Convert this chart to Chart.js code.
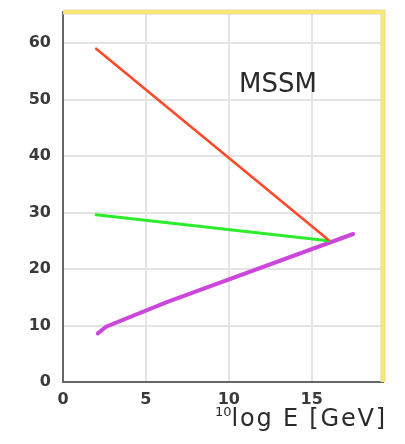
<!DOCTYPE html>
<html>
<head>
<meta charset="utf-8">
<script src="https://cdn.jsdelivr.net/npm/chart.js@4.4.1/dist/chart.umd.min.js"></script>
<style>
  body { margin: 0; background: #fff; }
  #wrap { position: relative; width: 405px; height: 444px; }
  .lbl { position: absolute; font-family: "DejaVu Sans"; color: #2a2a2a; white-space: nowrap; }
  #mssm { left: 239px; top: 68px; font-size: 26px; }
  #xtitle { left: 215px; top: 404px; font-size: 24px; letter-spacing: 1.8px; }
  #xtitle sup { font-size: 13px; letter-spacing: 0; position: relative; top: -1px; }
</style>
</head>
<body>
<div id="wrap">
  <canvas id="c" width="405" height="444"></canvas>
  <div class="lbl" id="mssm">MSSM</div>
  <div class="lbl" id="xtitle"><sup>10</sup>log E [GeV]</div>
</div>
<script>
// data (x = 10log E, y = 1/alpha)
const xTicks = [0, 5, 10, 15];
const yTicks = [0, 10, 20, 30, 40, 50, 60];
const redLine = [{x: 2.0, y: 59}, {x: 16.0, y: 25.2}];
const greenLine = [{x: 2.0, y: 29.6}, {x: 16.0, y: 25.0}];
const purpleLine = [{x: 2.1, y: 8.6}, {x: 2.6, y: 9.8}, {x: 6.3, y: 14.2}, {x: 17.5, y: 26.2}];

const yellowFrame = {
  id: 'yellowFrame',
  afterDatasetsDraw(chart) {
    const a = chart.chartArea;
    const ctx = chart.ctx;
    ctx.save();
    ctx.beginPath();
    ctx.moveTo(a.left, a.top);
    ctx.lineTo(a.right, a.top);
    ctx.lineTo(a.right, a.bottom);
    ctx.strokeStyle = '#dcd6b8';
    ctx.lineWidth = 5;
    ctx.stroke();
    ctx.strokeStyle = '#fbe96b';
    ctx.lineWidth = 3.5;
    ctx.stroke();
    ctx.restore();
  }
};

function keepTicks(list) {
  return function (scale) {
    scale.ticks = list.map(v => ({value: v}));
  };
}

new Chart(document.getElementById('c'), {
  type: 'line',
  data: {
    datasets: [
      {data: redLine, borderColor: '#ff4a2a', borderWidth: 2.6},
      {data: greenLine, borderColor: '#2cec2c', borderWidth: 3},
      {data: purpleLine, borderColor: '#cc46dc', borderWidth: 4}
    ]
  },
  options: {
    responsive: false,
    animation: false,
    events: [],
    layout: {padding: {left: 0, right: 22, top: 12, bottom: 0}},
    elements: {
      line: {tension: 0, borderCapStyle: 'round'},
      point: {radius: 0}
    },
    plugins: {legend: {display: false}, tooltip: {enabled: false}},
    scales: {
      x: {
        type: 'linear',
        min: 0,
        max: 19.3,
        afterBuildTicks: keepTicks(xTicks),
        afterFit(s) { s.height = 62; s.paddingLeft = 0; s.paddingRight = 0; },
        grid: {color: '#e4e4e4', lineWidth: 2, drawTicks: false},
        border: {color: '#666', width: 2},
        ticks: {padding: 8, color: '#3a3a3a', font: {family: 'DejaVu Sans', size: 16, weight: 'bold'}}
      },
      y: {
        min: 0,
        max: 65.5,
        afterBuildTicks: keepTicks(yTicks),
        afterFit(s) { s.width = 63; s.paddingTop = 0; s.paddingBottom = 0; },
        grid: {color: '#e4e4e4', lineWidth: 2, drawTicks: false},
        border: {color: '#666', width: 2},
        ticks: {padding: 12, color: '#3a3a3a', font: {family: 'DejaVu Sans', size: 16, weight: 'bold'}}
      }
    }
  },
  plugins: [yellowFrame]
});
</script>
</body>
</html>
